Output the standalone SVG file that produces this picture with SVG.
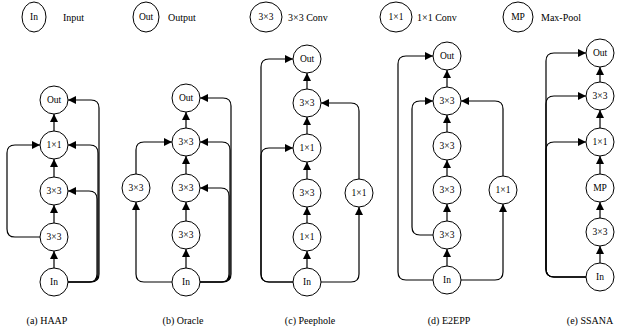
<svg xmlns="http://www.w3.org/2000/svg" width="618" height="330" viewBox="0 0 618 330" font-family="'Liberation Serif','Times New Roman','DejaVu Serif',serif">
<style>
.n{fill:#fff;stroke:#000;stroke-width:1}
.t{font-family:'Liberation Serif','Times New Roman','DejaVu Serif',serif;font-size:9.5px;fill:#000;text-anchor:middle;dominant-baseline:central}
.l{font-family:'Liberation Serif','Times New Roman','DejaVu Serif',serif;font-size:10px;fill:#000;dominant-baseline:central}
.c{font-family:'Liberation Serif','Times New Roman','DejaVu Serif',serif;font-size:10px;fill:#000;text-anchor:middle}
.e{fill:none;stroke:#000;stroke-width:1.2;marker-end:url(#a)}
</style>
<defs>
<marker id="a" markerUnits="userSpaceOnUse" markerWidth="9" markerHeight="9" refX="8" refY="4" orient="auto"><path d="M0,0 L8,4 L0,8 z" fill="#000"/></marker>
</defs>
<rect width="618" height="330" fill="#fff"/>
<g id="legend">
<ellipse class="n" cx="34" cy="17" rx="12" ry="15"/><text class="t" x="34" y="17">In</text><text class="l" x="63" y="17">Input</text>
<ellipse class="n" cx="146" cy="17" rx="13" ry="15"/><text class="t" x="146" y="17">Out</text><text class="l" x="168" y="17">Output</text>
<ellipse class="n" cx="266" cy="17" rx="16" ry="15"/><text class="t" x="266" y="17">3×3</text><text class="l" x="288" y="17">3×3 Conv</text>
<ellipse class="n" cx="396" cy="17" rx="16" ry="15"/><text class="t" x="396" y="17">1×1</text><text class="l" x="417" y="17">1×1 Conv</text>
<ellipse class="n" cx="518" cy="17" rx="15" ry="15"/><text class="t" x="518" y="17">MP</text><text class="l" x="541" y="17">Max-Pool</text>
</g>
<g id="connectors">
<!-- HAAP -->
<path class="e" d="M54,268 V251"/><path class="e" d="M54,223 V205"/><path class="e" d="M54,177 V159"/><path class="e" d="M54,131 V114"/>
<path class="e" d="M40,237 H15 Q7,237 7,229 V153 Q7,145 15,145 H40"/>
<path class="e" d="M68,282 H91 Q99,282 99,274 V108 Q99,100 91,100 H68"/>
<path class="e" d="M68,282 H90 Q98,282 98,274 V153 Q98,145 90,145 H68"/>
<path class="e" d="M68,282 H89 Q97,282 97,274 V199 Q97,191 89,191 H68"/>
<!-- Oracle -->
<path class="e" d="M186,268 V249"/><path class="e" d="M186,221 V202"/><path class="e" d="M186,174 V156"/><path class="e" d="M186,128 V112"/>
<path class="e" d="M172,282 H144 Q136,282 136,274 V202"/>
<path class="e" d="M136,174 V150 Q136,142 144,142 H172"/>
<path class="e" d="M200,282 H223 Q231,282 231,274 V106 Q231,98 223,98 H200"/>
<path class="e" d="M200,282 H222 Q230,282 230,274 V150 Q230,142 222,142 H200"/>
<path class="e" d="M200,282 H221 Q229,282 229,274 V196 Q229,188 221,188 H200"/>
<!-- Peephole -->
<path class="e" d="M307,268 V251"/><path class="e" d="M307,223 V207"/><path class="e" d="M307,179 V162"/><path class="e" d="M307,134 V117"/><path class="e" d="M307,89 V73"/>
<path class="e" d="M293,282 H269 Q261,282 261,274 V67 Q261,59 269,59 H293"/>
<path class="e" d="M293,282 H269 Q261,282 261,274 V156 Q261,148 269,148 H293"/>
<path class="e" d="M321,282 H351 Q359,282 359,274 V207"/>
<path class="e" d="M359,179 V111 Q359,103 351,103 H321"/>
<!-- E2EPP -->
<path class="e" d="M447,266 V249"/><path class="e" d="M447,221 V204"/><path class="e" d="M447,176 V160"/><path class="e" d="M447,132 V115"/><path class="e" d="M447,87 V70"/>
<path class="e" d="M433,280 H406 Q398,280 398,272 V64 Q398,56 406,56 H433"/>
<path class="e" d="M433,235 H420 Q412,235 412,227 V109 Q412,101 420,101 H433"/>
<path class="e" d="M461,280 H495 Q503,280 503,272 V204"/>
<path class="e" d="M503,176 V109 Q503,101 495,101 H461"/>
<!-- SSANA -->
<path class="e" d="M600,263 V246"/><path class="e" d="M600,218 V202"/><path class="e" d="M600,174 V156"/><path class="e" d="M600,128 V110"/><path class="e" d="M600,82 V67"/>
<path class="e" d="M586,277 H554 Q546,277 546,269 V61 Q546,53 554,53 H586"/>
<path class="e" d="M586,277 H554 Q546,277 546,269 V104 Q546,96 554,96 H586"/>
<path class="e" d="M586,277 H554 Q546,277 546,269 V150 Q546,142 554,142 H586"/>
</g>
<g id="haap">
<g id="haap-out"><circle class="n" cx="54" cy="100" r="14"/><text class="t" x="54" y="100">Out</text></g>
<g id="haap-1x1"><circle class="n" cx="54" cy="145" r="14"/><text class="t" x="54" y="145">1×1</text></g>
<g id="haap-3x3b"><circle class="n" cx="54" cy="191" r="14"/><text class="t" x="54" y="191">3×3</text></g>
<g id="haap-3x3a"><circle class="n" cx="54" cy="237" r="14"/><text class="t" x="54" y="237">3×3</text></g>
<g id="haap-in"><circle class="n" cx="54" cy="282" r="14"/><text class="t" x="54" y="282">In</text></g>
</g>
<g id="oracle">
<g id="oracle-out"><circle class="n" cx="186" cy="98" r="14"/><text class="t" x="186" y="98">Out</text></g>
<g id="oracle-3x3c"><circle class="n" cx="186" cy="142" r="14"/><text class="t" x="186" y="142">3×3</text></g>
<g id="oracle-3x3b"><circle class="n" cx="186" cy="188" r="14"/><text class="t" x="186" y="188">3×3</text></g>
<g id="oracle-3x3a"><circle class="n" cx="186" cy="235" r="14"/><text class="t" x="186" y="235">3×3</text></g>
<g id="oracle-3x3l"><circle class="n" cx="136" cy="188" r="14"/><text class="t" x="136" y="188">3×3</text></g>
<g id="oracle-in"><circle class="n" cx="186" cy="282" r="14"/><text class="t" x="186" y="282">In</text></g>
</g>
<g id="peephole">
<g id="pp-out"><circle class="n" cx="307" cy="59" r="14"/><text class="t" x="307" y="59">Out</text></g>
<g id="pp-3x3b"><circle class="n" cx="307" cy="103" r="14"/><text class="t" x="307" y="103">3×3</text></g>
<g id="pp-1x1b"><circle class="n" cx="307" cy="148" r="14"/><text class="t" x="307" y="148">1×1</text></g>
<g id="pp-3x3a"><circle class="n" cx="307" cy="193" r="14"/><text class="t" x="307" y="193">3×3</text></g>
<g id="pp-1x1a"><circle class="n" cx="307" cy="237" r="14"/><text class="t" x="307" y="237">1×1</text></g>
<g id="pp-1x1r"><circle class="n" cx="359" cy="193" r="14"/><text class="t" x="359" y="193">1×1</text></g>
<g id="pp-in"><circle class="n" cx="307" cy="282" r="14"/><text class="t" x="307" y="282">In</text></g>
</g>
<g id="e2epp">
<g id="e2-out"><circle class="n" cx="447" cy="56" r="14"/><text class="t" x="447" y="56">Out</text></g>
<g id="e2-3x3d"><circle class="n" cx="447" cy="101" r="14"/><text class="t" x="447" y="101">3×3</text></g>
<g id="e2-3x3c"><circle class="n" cx="447" cy="146" r="14"/><text class="t" x="447" y="146">3×3</text></g>
<g id="e2-3x3b"><circle class="n" cx="447" cy="190" r="14"/><text class="t" x="447" y="190">3×3</text></g>
<g id="e2-3x3a"><circle class="n" cx="447" cy="235" r="14"/><text class="t" x="447" y="235">3×3</text></g>
<g id="e2-1x1r"><circle class="n" cx="503" cy="190" r="14"/><text class="t" x="503" y="190">1×1</text></g>
<g id="e2-in"><circle class="n" cx="447" cy="280" r="14"/><text class="t" x="447" y="280">In</text></g>
</g>
<g id="ssana">
<g id="ss-out"><circle class="n" cx="600" cy="53" r="14"/><text class="t" x="600" y="53">Out</text></g>
<g id="ss-3x3b"><circle class="n" cx="600" cy="96" r="14"/><text class="t" x="600" y="96">3×3</text></g>
<g id="ss-1x1"><circle class="n" cx="600" cy="142" r="14"/><text class="t" x="600" y="142">1×1</text></g>
<g id="ss-mp"><circle class="n" cx="600" cy="188" r="14"/><text class="t" x="600" y="188">MP</text></g>
<g id="ss-3x3a"><circle class="n" cx="600" cy="232" r="14"/><text class="t" x="600" y="232">3×3</text></g>
<g id="ss-in"><circle class="n" cx="600" cy="277" r="14"/><text class="t" x="600" y="277">In</text></g>
</g>
<g id="captions">
<text class="c" x="47" y="324">(a) HAAP</text>
<text class="c" x="183" y="324">(b) Oracle</text>
<text class="c" x="310" y="324">(c) Peephole</text>
<text class="c" x="449" y="324">(d) E2EPP</text>
<text class="c" x="590" y="324">(e) SSANA</text>
</g>
</svg>
